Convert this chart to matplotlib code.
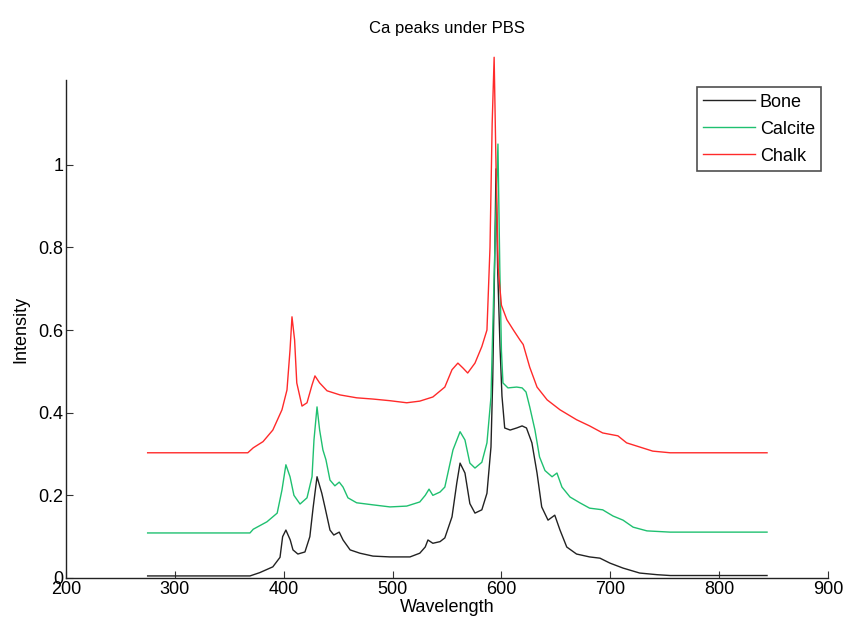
import matplotlib
matplotlib.use("Agg")
import matplotlib.pyplot as plt
from matplotlib import font_manager

# ---------------- data ----------------
bone_x = [275, 369, 378, 390, 396.6, 399, 402, 406, 408.5, 413, 419.5, 424, 427, 430.6, 435, 438,
          442.5, 446, 451, 454.5, 461, 470, 482, 497.6, 516, 525, 530, 532.5, 537, 543.6, 548,
          554.6, 559, 562, 566.5, 571, 575.7, 582, 586.7, 590.4, 592, 594, 595, 596.5, 598.7,
          600.5, 603, 608, 614, 619, 623, 628, 632.7, 637, 642.8, 649, 653.8, 660, 669, 681,
          690.5, 699.7, 711.7, 727, 743, 755, 844]
bone_y = [0.005, 0.005, 0.013, 0.027, 0.05, 0.10, 0.116, 0.092, 0.068, 0.058, 0.063, 0.10, 0.17,
          0.245, 0.205, 0.17, 0.116, 0.104, 0.111, 0.092, 0.068, 0.06, 0.053, 0.051, 0.051, 0.06,
          0.075, 0.092, 0.084, 0.088, 0.097, 0.148, 0.23, 0.278, 0.254, 0.18, 0.157, 0.165, 0.205,
          0.317, 0.48, 0.80, 0.99, 0.75, 0.56, 0.44, 0.363, 0.358, 0.363, 0.368, 0.363, 0.327,
          0.254, 0.172, 0.14, 0.152, 0.116, 0.075, 0.058, 0.051, 0.048, 0.036, 0.024, 0.012,
          0.008, 0.006, 0.006]

calcite_x = [275, 369, 372, 384.6, 394, 398.4, 402, 405.8, 409.4, 415, 421.4, 426, 427.8, 430.6,
             433, 436, 438.8, 442.5, 447, 451, 454.5, 459, 467, 482, 497.6, 513, 525, 530, 533.5,
             537, 543.6, 548, 555.5, 562, 566.5, 571, 575.7, 582, 586.7, 590.4, 592, 594.5, 596.8,
             598.5, 600, 601.4, 606, 614, 619, 622.6, 626, 630.8, 635, 640, 646.5, 651, 655.6,
             663, 672, 681, 693, 702.5, 711.7, 721, 733.7, 755, 844]
calcite_y = [0.109, 0.109, 0.118, 0.136, 0.157, 0.213, 0.274, 0.245, 0.20, 0.179, 0.194, 0.245,
             0.334, 0.414, 0.358, 0.31, 0.286, 0.237, 0.223, 0.232, 0.22, 0.194, 0.182, 0.177,
             0.172, 0.174, 0.184, 0.20, 0.215, 0.20, 0.208, 0.22, 0.31, 0.354, 0.334, 0.278,
             0.266, 0.28, 0.327, 0.438, 0.60, 0.85, 1.05, 0.75, 0.55, 0.472, 0.46, 0.462, 0.46,
             0.45, 0.414, 0.358, 0.293, 0.26, 0.245, 0.254, 0.22, 0.196, 0.182, 0.169, 0.165,
             0.15, 0.14, 0.123, 0.114, 0.111, 0.111]

chalk_x = [275, 367, 372, 381, 390, 398.4, 403, 405.8, 407.6, 410, 412, 416.8, 421.4, 426, 428.7,
           433, 439.8, 451.7, 467, 482, 497.6, 513, 525, 537, 548, 554.6, 560, 564.7, 569, 575.7,
           582, 586.7, 589.5, 591.5, 593.3, 595, 597, 600, 605, 611, 617, 620, 626, 632.7, 642,
           653.8, 669, 681, 693, 707, 715, 727, 739, 755, 844]
chalk_y = [0.303, 0.303, 0.315, 0.33, 0.358, 0.407, 0.455, 0.552, 0.632, 0.576, 0.472, 0.416,
           0.424, 0.467, 0.489, 0.472, 0.453, 0.443, 0.436, 0.433, 0.429, 0.424, 0.428, 0.438,
           0.462, 0.504, 0.52, 0.508, 0.496, 0.52, 0.56, 0.60, 0.80, 1.10, 1.26, 1.00, 0.75,
           0.66, 0.625, 0.60, 0.576, 0.565, 0.51, 0.462, 0.431, 0.407, 0.383, 0.368, 0.351,
           0.344, 0.327, 0.317, 0.307, 0.303, 0.303]

series_names = ["Bone", "Calcite", "Chalk"]
series_colors = ["#222222", "#1fc070", "#ff2a2a"]

x_ticks = [200, 300, 400, 500, 600, 700, 800, 900]
y_ticks = [0, 0.2, 0.4, 0.6, 0.8, 1]
y_tick_labels = ["0", "0.2", "0.4", "0.6", "0.8", "1"]

# ---------------- plot ----------------
avail = {f.name for f in font_manager.fontManager.ttflist}
fam = "Liberation Sans Narrow" if "Liberation Sans Narrow" in avail else "Liberation Sans"
plt.rcParams["font.family"] = [fam, "DejaVu Sans"]

fig = plt.figure(figsize=(8.47, 6.28), dpi=100)
ax = fig.add_axes([66 / 847, 50 / 628, (828 - 66) / 847, (578 - 80) / 628])

for xs, ys, name, col in zip([bone_x, calcite_x, chalk_x], [bone_y, calcite_y, chalk_y],
                             series_names, series_colors):
    ax.plot(xs, ys, color=col, lw=1.0, label=name, clip_on=False)

ax.set_xlim(200, 900)
ax.set_ylim(0, 1.205)
ax.set_xticks(x_ticks)
ax.set_xticklabels([str(t) for t in x_ticks], fontsize=13)
ax.set_yticks(y_ticks)
ax.set_yticklabels(y_tick_labels, fontsize=13)
ax.tick_params(direction="in", length=5, width=0.8, color="#333333", pad=2)
ax.spines["top"].set_visible(False)
ax.spines["right"].set_visible(False)
for s in ("left", "bottom"):
    ax.spines[s].set_linewidth(1.0)
    ax.spines[s].set_color("#222222")

ax.set_xlabel("Wavelength", fontsize=13, labelpad=1)
ax.set_ylabel("Intensity", fontsize=13, labelpad=6)
ax.set_title("Ca peaks under PBS", fontsize=12, pad=34)

leg = ax.legend(loc="upper right", bbox_to_anchor=(0.991, 0.985), fontsize=13,
                frameon=True, fancybox=False, handlelength=2.9, handletextpad=0.25,
                borderpad=0.35, labelspacing=0.55, borderaxespad=0.0)
leg.get_frame().set_edgecolor("#222222")
leg.get_frame().set_linewidth(1.2)

fig.savefig("out.png", dpi=100)
